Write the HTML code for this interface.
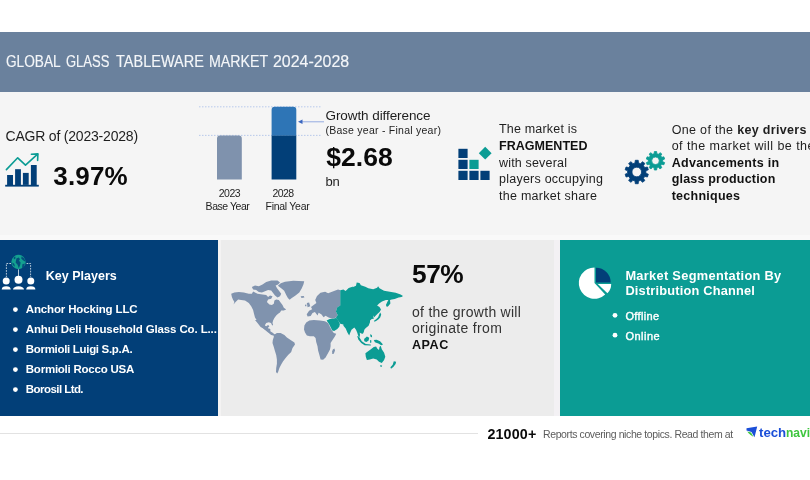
<!DOCTYPE html>
<html lang="en"><head><meta charset="utf-8"><title>Global Glass Tableware Market 2024-2028</title>
<style>
html,body{margin:0;padding:0;background:#fff}
body{width:810px;height:480px;position:relative;overflow:hidden;font-family:"Liberation Sans", sans-serif}
.t{position:absolute;white-space:nowrap;font-family:"Liberation Sans", sans-serif}
.b{position:absolute}
svg{position:absolute;left:0;top:0}
</style></head><body>
<div class="b" style="left:0;top:31.5px;width:810px;height:60px;background:#6a819d"></div>
<div class="b" style="left:0;top:91.5px;width:810px;height:143.5px;background:#f5f5f5"></div>
<div class="b" style="left:0;top:235px;width:810px;height:5px;background:#f9f9f9"></div>
<div class="b" style="left:0;top:240px;width:218px;height:176px;background:#023f78"></div>
<div class="b" style="left:218px;top:240px;width:3px;height:176px;background:#f4f3f3"></div>
<div class="b" style="left:220.5px;top:240px;width:333.5px;height:176px;background:#ececec"></div>
<div class="b" style="left:554px;top:240px;width:5.5px;height:176px;background:#f3f1f4"></div>
<div class="b" style="left:559.5px;top:240px;width:250.5px;height:176px;background:#0b9c94"></div>
<div class="b" style="left:0;top:433px;width:478px;height:1px;background:#e2e2e2"></div>
<svg width="810" height="480" viewBox="0 0 810 480">
<g fill="#023f78"><rect x="5.2" y="184.8" width="33.6" height="1.8"/><rect x="7.1" y="175" width="5.9" height="10"/><rect x="15.1" y="169.2" width="5.8" height="16"/><rect x="22.9" y="172.9" width="5.8" height="12"/><rect x="30.9" y="165" width="5.8" height="20"/></g>
<g fill="none" stroke="#0b9c94" stroke-width="1.6" stroke-linecap="round" stroke-linejoin="round"><polyline points="6.4,169.6 17.7,157.8 25.5,165.2 37.6,154.2"/><polyline points="31.4,154.3 37.9,153.9 37.6,160.4"/></g>
<g stroke="#a9bfe8" stroke-width="0.8" stroke-dasharray="1.5,1.5"><line x1="199" y1="106.8" x2="321" y2="106.8"/><line x1="199" y1="135.4" x2="321" y2="135.4"/></g>
<path d="M217,179.5V138.6a3,3 0 0 1 3,-3h18.8a3,3 0 0 1 3,3V179.5Z" fill="#7f92ad"/>
<path d="M271.6,135.8V109.7a3,3 0 0 1 3,-3h18.7a3,3 0 0 1 3,3V135.8Z" fill="#2e75b6"/>
<rect x="271.6" y="135.6" width="24.7" height="43.9" fill="#023f78"/>
<g stroke="#8aa4e0" fill="#3a66c0"><line x1="300" y1="121.8" x2="324" y2="121.8" stroke-width="0.9"/><polygon points="298,121.8 302.5,119.6 302.5,124" stroke="none"/></g>
<rect x="458.4" y="148.8" width="9.2" height="9.2" fill="#023f78"/>
<rect x="458.4" y="159.8" width="9.2" height="9.2" fill="#023f78"/>
<rect x="458.4" y="170.8" width="9.2" height="9.2" fill="#023f78"/>
<rect x="469.4" y="159.8" width="9.2" height="9.2" fill="#0b9c94"/>
<rect x="469.4" y="170.8" width="9.2" height="9.2" fill="#023f78"/>
<rect x="480.4" y="170.8" width="9.2" height="9.2" fill="#023f78"/>
<polygon points="485.2,146.8 491.6,153.2 485.2,159.6 478.8,153.2" fill="#0b9c94"/>
<path d="M635.03,162.96 L635.27,160.29 L638.23,160.29 L638.47,162.96 L640.67,163.68 L642.43,161.66 L644.83,163.40 L643.46,165.70 L644.81,167.57 L647.43,166.98 L648.34,169.79 L645.88,170.85 L645.88,173.15 L648.34,174.21 L647.43,177.02 L644.81,176.43 L643.46,178.30 L644.83,180.60 L642.43,182.34 L640.67,180.32 L638.47,181.04 L638.23,183.71 L635.27,183.71 L635.03,181.04 L632.83,180.32 L631.07,182.34 L628.67,180.60 L630.04,178.30 L628.69,176.43 L626.07,177.02 L625.16,174.21 L627.62,173.15 L627.62,170.85 L625.16,169.79 L626.07,166.98 L628.69,167.57 L630.04,165.70 L628.67,163.40 L631.07,161.66 L632.83,163.68Z M641.55,172.00 A4.8,4.8 0 1,0 631.95,172.00 A4.8,4.8 0 1,0 641.55,172.00Z" fill="#023f78" fill-rule="evenodd" stroke="#023f78" stroke-width="0.8" stroke-linejoin="round"/>
<path d="M654.15,153.73 L654.33,151.57 L656.67,151.57 L656.85,153.73 L658.57,154.29 L659.98,152.65 L661.87,154.02 L660.75,155.87 L661.81,157.33 L663.91,156.84 L664.64,159.06 L662.64,159.90 L662.64,161.70 L664.64,162.54 L663.91,164.76 L661.81,164.27 L660.75,165.73 L661.87,167.58 L659.98,168.95 L658.57,167.31 L656.85,167.87 L656.67,170.03 L654.33,170.03 L654.15,167.87 L652.43,167.31 L651.02,168.95 L649.13,167.58 L650.25,165.73 L649.19,164.27 L647.09,164.76 L646.36,162.54 L648.36,161.70 L648.36,159.90 L646.36,159.06 L647.09,156.84 L649.19,157.33 L650.25,155.87 L649.13,154.02 L651.02,152.65 L652.43,154.29Z M659.30,160.80 A3.8,3.8 0 1,0 651.70,160.80 A3.8,3.8 0 1,0 659.30,160.80Z" fill="#0b9c94" fill-rule="evenodd" stroke="#0b9c94" stroke-width="0.8" stroke-linejoin="round"/>
<circle cx="18.5" cy="262" r="7.2" fill="#14a090"/>
<path d="M16.4,258.4 l2.2,-1 1.4,1.6 -1,1.8 1.6,1.6 -0.4,2.4 -1.4,3.4 -1.2,-3.4 -2,-2.2z M21.6,256.4 l2.8,2 1,3.4 -2.4,-1.6 -1.8,-1.6z M12.2,262.6 l2,1.2 0.8,3 -2.2,-1.8z M22.4,264.2 l2.4,-0.6 -0.6,2.8 -2.2,1.8z M13.6,257.6 l1.6,-1.2 0.4,1.8 -1.6,1.2z" fill="#023f78" opacity="0.85"/>
<g stroke="#fff" stroke-width="0.8" fill="none" opacity="0.9"><line x1="18.5" y1="269.4" x2="18.5" y2="276"/><polyline points="11,263.5 6.4,263.5 6.4,277" stroke-dasharray="1.7,1.1"/><polyline points="26.6,263.5 30.6,263.5 30.6,277" stroke-dasharray="1.7,1.1"/></g>
<circle cx="6.2" cy="281" r="3.5" fill="#fff"/>
<path d="M1.7000000000000002,289.6 a4.5,3.4 0 0 1 9.0,0z" fill="#fff"/>
<circle cx="18.5" cy="279.8" r="4.0" fill="#fff"/>
<path d="M13.0,289.6 a5.5,3.4 0 0 1 11.0,0z" fill="#fff"/>
<circle cx="30.8" cy="281" r="3.5" fill="#fff"/>
<path d="M26.200000000000003,289.6 a4.6,3.4 0 0 1 9.2,0z" fill="#fff"/>
<circle cx="15.4" cy="309.6" r="2.4" fill="#fff"/>
<circle cx="15.4" cy="329.6" r="2.4" fill="#fff"/>
<circle cx="15.4" cy="349.6" r="2.4" fill="#fff"/>
<circle cx="15.4" cy="369.6" r="2.4" fill="#fff"/>
<circle cx="15.4" cy="389.6" r="2.4" fill="#fff"/>
<circle cx="615" cy="315.3" r="2.4" fill="#fff"/>
<circle cx="615" cy="335.2" r="2.4" fill="#fff"/>
<polygon fill="#8093ae" points="231.2,293.8 234.4,292.5 238.8,291.9 243.8,292.5 248.8,293.8 251.9,293.8 253.1,291.5 257.5,293.8 262.5,294.4 266.2,295.0 268.1,296.9 270.0,295.6 272.5,296.2 271.2,298.8 268.1,299.4 266.9,301.9 269.4,304.4 271.9,305.0 273.8,303.8 274.4,300.6 276.2,299.4 278.8,300.0 280.6,302.5 282.5,305.0 283.8,307.8 286.2,309.4 283.8,310.6 281.2,310.6 280.0,312.5 278.1,313.8 276.2,315.6 274.4,318.1 273.1,320.6 272.5,323.1 273.1,325.0 272.2,325.6 271.0,323.1 268.8,322.2 266.2,323.1 265.0,325.0 265.6,327.5 267.5,329.0 269.4,328.5 270.6,329.8 270.0,331.5 271.9,333.2 274.4,334.2 277.5,335.2 275.0,336.0 271.2,335.0 267.5,331.9 264.4,329.6 261.9,326.9 259.4,323.1 256.9,320.6 255.0,317.5 254.0,313.8 253.1,310.0 251.2,306.2 248.8,303.1 245.0,300.6 241.2,300.0 238.1,299.4 235.6,301.9 233.5,304.5 234.4,301.9 232.9,299.4 231.9,296.9"/>
<polygon fill="#8093ae" points="251.9,286.9 255.0,285.6 258.8,286.2 262.5,284.4 266.2,281.9 271.2,280.6 277.5,280.6 280.0,282.5 278.1,284.4 275.6,285.6 276.9,288.1 278.8,290.6 281.2,293.8 280.0,296.2 277.5,297.5 275.0,295.6 273.1,293.1 271.2,290.6 268.1,290.0 265.0,291.2 261.9,292.5 258.8,291.9 256.2,290.0 253.1,289.4"/>
<polygon fill="#8093ae" points="277.9,285.8 280.8,283.3 285.0,281.7 293.3,280.8 304.2,281.2 303.5,284.2 301.8,288.3 299.3,292.5 295.2,295.8 291.8,297.9 289.6,299.7 287.9,297.9 286.2,295.0 284.2,290.8 281.2,288.3"/>
<polygon fill="#8093ae" points="300.6,296.2 303.8,296.0 304.4,297.5 301.5,298.0"/>
<polygon fill="#8093ae" points="255.0,320.0 257.5,323.1 260.6,326.9 263.8,328.8 266.9,330.6 269.4,332.5 271.9,334.0 273.8,335.0 273.5,333.2 270.6,331.5 268.8,329.4 268.1,327.5 269.4,326.2 268.1,325.0 266.2,326.2 264.4,325.6 262.5,323.1 261.9,320.6 261.2,320.0"/>
<polygon fill="#8093ae" points="273.8,335.0 276.9,333.1 280.6,333.1 284.4,335.0 286.9,337.5 290.6,340.0 294.4,342.5 295.0,344.4 292.5,348.1 291.2,351.9 288.1,355.0 285.6,358.1 283.1,361.2 281.2,364.4 279.4,368.1 278.1,371.9 277.2,373.5 276.0,371.9 276.2,368.1 276.9,363.8 276.9,359.4 276.2,355.0 275.0,351.2 273.8,346.9 272.5,343.1 272.8,340.0 273.8,336.9"/>
<polygon fill="#8093ae" points="304.4,325.6 306.2,322.5 309.4,320.6 313.8,320.0 320.0,320.6 325.0,321.2 328.1,323.1 330.0,326.9 331.9,330.6 333.8,333.1 336.2,333.8 335.0,336.2 332.5,340.0 330.6,343.1 330.6,346.2 330.0,349.4 328.1,353.1 325.6,357.5 323.1,359.8 320.6,359.4 319.4,355.0 318.1,350.6 317.5,346.2 316.2,341.9 315.6,338.1 313.8,336.2 310.0,336.2 306.9,335.6 305.0,332.5 304.0,329.4"/>
<polygon fill="#8093ae" points="332.8,349.4 334.4,348.5 335.0,350.6 333.8,353.8 332.2,354.0 332.2,351.2"/>
<polygon fill="#8093ae" points="307.6,313.0 309.1,310.8 312.2,309.2 311.0,307.0 314.0,304.7 316.4,303.1 315.2,300.1 317.0,296.0 320.5,292.8 325.1,291.7 328.1,293.3 332.7,291.4 338.0,289.5 340.5,290.2 340.5,305.4 337.3,307.3 335.9,311.5 337.7,314.9 336.2,317.6 332.3,318.7 328.6,317.6 325.6,315.8 323.6,317.3 321.3,314.3 318.6,312.7 317.6,315.5 314.9,312.1 312.5,313.0 310.7,316.1 307.6,316.4 306.7,314.3"/>
<polygon fill="#8093ae" points="306.8,303.1 309.1,302.4 310.3,306.2 307.6,307.3"/>
<polygon fill="#8093ae" points="305.0,304.8 306.4,304.5 306.4,306.3 305.2,306.3"/>
<polygon fill="#0b9c94" points="340.3,290.2 343.4,289.5 345.6,291.0 348.7,287.9 353.3,286.4 352.6,287.3 356.0,285.8 356.7,282.4 359.5,282.9 360.9,285.3 365.3,286.8 368.3,288.3 373.2,289.3 377.1,287.8 378.1,286.3 379.5,288.3 384.0,290.7 389.8,291.7 395.7,292.7 400.6,294.6 403.0,296.1 401.6,297.1 398.6,297.6 394.7,299.0 391.8,299.5 390.0,300.1 390.4,303.5 388.4,306.0 386.9,307.0 385.9,304.9 387.4,301.7 388.4,300.1 385.9,300.1 382.0,301.5 379.1,303.5 377.1,305.4 379.5,307.0 381.0,309.5 379.6,311.9 378.1,313.2 376.1,315.2 374.2,317.2 373.0,315.3 373.8,318.8 371.8,319.1 370.0,320.6 370.0,322.3 368.6,325.7 365.8,328.0 364.3,329.7 363.8,332.0 362.9,333.7 361.2,333.5 359.7,332.6 360.0,334.9 359.5,337.2 358.1,335.5 357.2,332.6 356.0,329.7 354.3,327.4 351.5,329.7 350.3,332.6 349.2,335.5 347.4,332.6 345.7,328.6 343.4,325.7 343.4,324.4 340.3,323.7 338.0,320.6 335.8,318.1 337.7,314.9 335.9,311.5 337.3,307.3 340.3,305.4"/>
<polygon fill="#0b9c94" points="326.6,320.6 329.7,319.1 332.7,318.8 335.9,317.9 338.3,320.6 339.9,324.0 339.3,326.7 337.3,329.0 334.2,331.0 332.3,330.5 330.4,326.7 328.9,323.7"/>
<polygon fill="#0b9c94" points="380.2,312.5 381.2,314.4 380.2,317.4 378.6,319.3 376.1,320.9 374.4,321.7 374.0,320.7 376.1,319.3 378.1,317.2 379.1,314.7"/>
<polygon fill="#0b9c94" points="357.2,336.0 358.9,336.6 361.8,341.2 365.8,344.1 370.7,344.6 370.9,345.4 364.6,345.2 361.2,342.9 358.3,339.5"/>
<polygon fill="#0b9c94" points="364.1,338.9 366.9,336.6 369.2,337.8 368.6,340.6 366.4,342.0 364.3,341.2"/>
<polygon fill="#0b9c94" points="370.0,334.3 371.8,334.9 372.1,337.2 370.7,337.0"/>
<polygon fill="#0b9c94" points="370.0,340.0 371.4,340.4 371.2,342.9 370.2,342.7"/>
<polygon fill="#0b9c94" points="373.8,340.0 376.7,339.7 380.1,341.2 383.0,344.6 381.2,345.2 378.4,343.5 374.9,342.3"/>
<polygon fill="#0b9c94" points="365.4,353.2 368.1,351.2 370.9,349.2 373.8,346.9 376.1,346.6 377.2,348.6 379.0,350.0 379.5,346.9 380.7,345.8 381.8,349.2 384.1,352.7 385.3,356.7 384.1,360.1 381.8,363.0 379.0,361.8 376.7,359.5 373.2,358.4 369.8,359.5 366.9,360.1 365.8,356.7"/>
<polygon fill="#0b9c94" points="380.1,365.3 382.2,365.5 381.5,367.0 380.3,366.5"/>
<polygon fill="#0b9c94" points="393.8,361.2 396.1,361.8 395.6,364.1 393.3,367.0 391.0,368.7 390.4,367.2 392.7,364.7"/>
<path d="M594.5,283.1 L594.5,267.40000000000003 A15.7,15.7 0 1,0 605.21,294.58Z" fill="#fff"/>
<path d="M596.0,282.4 V267.7 A14.7,14.7 0 0,1 610.7,282.4Z" fill="#023f78"/>
<path d="M597.8,284.0 H611.1999999999999 A13.4,13.4 0 0,1 607.44,293.31Z" fill="#fff"/>
<polygon points="746.5,428.2 757.2,426.5 754.5,437.2 751.5,432.0 746.5,430.6" fill="#1b4fd8"/>
<polygon points="747.2,431.4 751.0,432.4 753.6,437.0 750.6,435.0 748.4,433.0" fill="#3fc63f"/>
</svg>
<h1 style="margin:0;font-size:inherit;font-weight:inherit"><span class="t" style="left:5.90px;top:53.59px;font-size:15.6px;line-height:15.6px;font-weight:400;color:#f4f6f9;letter-spacing:0.000px;transform-origin:0 0;transform:scaleX(0.8749);-webkit-text-stroke:0.15px #f4f6f9">GLOBAL</span> <span class="t" style="left:66.40px;top:53.59px;font-size:15.6px;line-height:15.6px;font-weight:400;color:#f4f6f9;letter-spacing:0.000px;transform-origin:0 0;transform:scaleX(0.8344);-webkit-text-stroke:0.15px #f4f6f9">GLASS</span> <span class="t" style="left:116.10px;top:53.59px;font-size:15.6px;line-height:15.6px;font-weight:400;color:#f4f6f9;letter-spacing:0.000px;transform-origin:0 0;transform:scaleX(0.9306);-webkit-text-stroke:0.15px #f4f6f9">TABLEWARE</span> <span class="t" style="left:208.70px;top:53.59px;font-size:15.6px;line-height:15.6px;font-weight:400;color:#f4f6f9;letter-spacing:0.000px;transform-origin:0 0;transform:scaleX(0.9125);-webkit-text-stroke:0.15px #f4f6f9">MARKET</span> <span class="t" style="left:273.20px;top:53.59px;font-size:15.6px;line-height:15.6px;font-weight:400;color:#f4f6f9;letter-spacing:0.000px;transform-origin:0 0;transform:scaleX(1.0217);-webkit-text-stroke:0.15px #f4f6f9">2024-2028</span></h1>
<span class="t" style="left:5.50px;top:128.90px;font-size:14px;line-height:14px;font-weight:400;color:#1e1e1e;letter-spacing:-0.199px">CAGR of (2023-2028)</span>
<span class="t" style="left:53.30px;top:162.99px;font-size:26px;line-height:26px;font-weight:700;color:#0a0a0a;letter-spacing:0.170px">3.97%</span>
<span class="t" style="left:229.40px;top:188.11px;font-size:10.5px;line-height:10.5px;font-weight:400;color:#1e1e1e;letter-spacing:-0.531px;transform:translateX(-50%)">2023</span>
<span class="t" style="left:227.50px;top:200.61px;font-size:10.5px;line-height:10.5px;font-weight:400;color:#1e1e1e;letter-spacing:-0.458px;transform:translateX(-50%)">Base Year</span>
<span class="t" style="left:283.00px;top:188.11px;font-size:10.5px;line-height:10.5px;font-weight:400;color:#1e1e1e;letter-spacing:-0.531px;transform:translateX(-50%)">2028</span>
<span class="t" style="left:287.50px;top:200.61px;font-size:10.5px;line-height:10.5px;font-weight:400;color:#1e1e1e;letter-spacing:-0.285px;transform:translateX(-50%)">Final Year</span>
<span class="t" style="left:325.50px;top:108.57px;font-size:13.5px;line-height:13.5px;font-weight:400;color:#1e1e1e;letter-spacing:-0.080px">Growth difference</span>
<span class="t" style="left:325.50px;top:124.71px;font-size:10.5px;line-height:10.5px;font-weight:400;color:#1e1e1e;letter-spacing:0.247px">(Base year - Final year)</span>
<span class="t" style="left:326.20px;top:143.87px;font-size:26.5px;line-height:26.5px;font-weight:700;color:#0a0a0a;letter-spacing:0.038px">$2.68</span>
<span class="t" style="left:325.50px;top:175.00px;font-size:13px;line-height:13px;font-weight:400;color:#1e1e1e;letter-spacing:-0.312px">bn</span>
<span class="t" style="left:499.00px;top:123.12px;font-size:12.5px;line-height:12.5px;font-weight:400;color:#1e1e1e;letter-spacing:0.182px">The market is</span>
<span class="t" style="left:499.00px;top:139.92px;font-size:12.5px;line-height:12.5px;font-weight:700;color:#111;letter-spacing:0.031px">FRAGMENTED</span>
<span class="t" style="left:499.00px;top:156.62px;font-size:12.5px;line-height:12.5px;font-weight:400;color:#1e1e1e;letter-spacing:0.174px">with several</span>
<span class="t" style="left:499.00px;top:173.42px;font-size:12.5px;line-height:12.5px;font-weight:400;color:#1e1e1e;letter-spacing:0.239px">players occupying</span>
<span class="t" style="left:499.00px;top:190.02px;font-size:12.5px;line-height:12.5px;font-weight:400;color:#1e1e1e;letter-spacing:0.271px">the market share</span>
<span class="t" style="left:671.70px;top:123.52px;font-size:12.5px;line-height:12.5px;font-weight:400;color:#1e1e1e;letter-spacing:0.331px">One of the <b>key drivers</b></span>
<span class="t" style="left:671.70px;top:140.22px;font-size:12.5px;line-height:12.5px;font-weight:400;color:#1e1e1e;letter-spacing:0.448px">of the market will be the</span>
<span class="t" style="left:671.70px;top:156.82px;font-size:12.5px;line-height:12.5px;font-weight:700;color:#111;letter-spacing:0.275px">Advancements in</span>
<span class="t" style="left:671.70px;top:173.02px;font-size:12.5px;line-height:12.5px;font-weight:700;color:#111;letter-spacing:0.193px">glass production</span>
<span class="t" style="left:671.70px;top:189.72px;font-size:12.5px;line-height:12.5px;font-weight:700;color:#111;letter-spacing:0.253px">techniques</span>
<span class="t" style="left:45.80px;top:270.22px;font-size:12.5px;line-height:12.5px;font-weight:700;color:#fff;letter-spacing:0.010px">Key Players</span>
<span class="t" style="left:25.80px;top:303.97px;font-size:11.5px;line-height:11.5px;font-weight:700;color:#fff;letter-spacing:-0.153px">Anchor Hocking LLC</span>
<span class="t" style="left:25.80px;top:323.97px;font-size:11.5px;line-height:11.5px;font-weight:700;color:#fff;letter-spacing:-0.131px">Anhui Deli Household Glass Co. L...</span>
<span class="t" style="left:25.80px;top:343.97px;font-size:11.5px;line-height:11.5px;font-weight:700;color:#fff;letter-spacing:-0.312px">Bormioli Luigi S.p.A.</span>
<span class="t" style="left:25.80px;top:363.97px;font-size:11.5px;line-height:11.5px;font-weight:700;color:#fff;letter-spacing:-0.238px">Bormioli Rocco USA</span>
<span class="t" style="left:25.80px;top:383.97px;font-size:11.5px;line-height:11.5px;font-weight:700;color:#fff;letter-spacing:-0.556px">Borosil Ltd.</span>
<span class="t" style="left:412.00px;top:260.54px;font-size:26.3px;line-height:26.3px;font-weight:700;color:#0a0a0a;letter-spacing:-0.456px">57%</span>
<span class="t" style="left:412.00px;top:304.55px;font-size:14px;line-height:14px;font-weight:400;color:#333;letter-spacing:0.270px">of the growth will</span>
<span class="t" style="left:412.00px;top:320.95px;font-size:14px;line-height:14px;font-weight:400;color:#333;letter-spacing:0.326px">originate from</span>
<span class="t" style="left:412.00px;top:339.23px;font-size:12.6px;line-height:12.6px;font-weight:700;color:#111;letter-spacing:0.529px">APAC</span>
<span class="t" style="left:625.40px;top:270.06px;font-size:12.8px;line-height:12.8px;font-weight:700;color:#fff;letter-spacing:0.310px">Market Segmentation By</span>
<span class="t" style="left:625.40px;top:284.76px;font-size:12.8px;line-height:12.8px;font-weight:700;color:#fff;letter-spacing:0.193px">Distribution Channel</span>
<span class="t" style="left:625.40px;top:311.29px;font-size:11px;line-height:11px;font-weight:400;color:#fff;letter-spacing:0.370px;-webkit-text-stroke:0.4px #fff">Offline</span>
<span class="t" style="left:625.40px;top:331.19px;font-size:11px;line-height:11px;font-weight:400;color:#fff;letter-spacing:0.491px;-webkit-text-stroke:0.4px #fff">Online</span>
<span class="t" style="left:487.40px;top:426.50px;font-size:14.3px;line-height:14.3px;font-weight:700;color:#0a0a0a;letter-spacing:0.162px">21000+</span>
<span class="t" style="left:543.00px;top:429.41px;font-size:10.5px;line-height:10.5px;font-weight:400;color:#5c5c5c;letter-spacing:-0.391px">Reports covering niche topics. Read them at</span>
<div><span class="t" style="left:759.40px;top:425.50px;font-size:13px;line-height:13px;font-weight:700;color:#1b4fd8;letter-spacing:0.000px;transform-origin:0 0;transform:scaleX(1.0174)">tech</span><span class="t" style="left:786.40px;top:425.50px;font-size:13px;line-height:13px;font-weight:700;color:#3fc63f;letter-spacing:0.000px;transform-origin:0 0;transform:scaleX(0.9273)">navio</span></div>
</body></html>
